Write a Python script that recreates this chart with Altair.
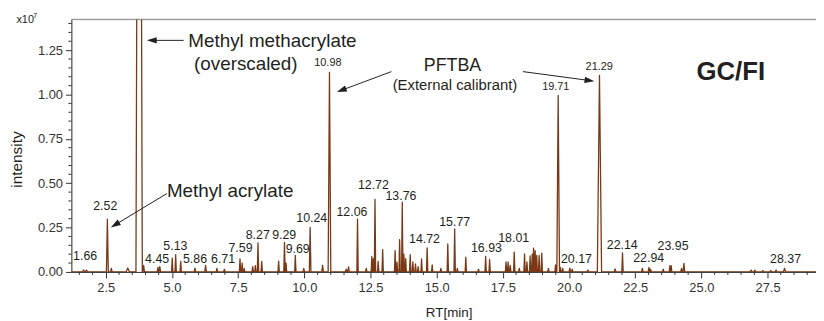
import math
import altair as alt
import pandas as pd

# ---------------- data ----------------
# retention time [min], intensity [x1e7], half width of peak [min]
peak_rt = [1.66, 1.77, 2.56, 2.71, 3.33, 3.76, 3.93, 4.47, 4.54, 5.01, 5.14, 5.33,
           5.87, 6.27, 6.70, 6.98, 7.57, 7.65, 7.73, 8.05, 8.15, 8.25, 8.39, 9.03,
           9.25, 9.31, 9.66, 9.98, 10.22, 10.69, 10.95, 11.58, 11.67, 12.01, 12.34,
           12.55, 12.61, 12.67, 12.79, 12.96, 13.43, 13.50, 13.60, 13.70, 13.76,
           13.83, 14.00, 14.10, 14.20, 14.30, 14.43, 14.64, 14.83, 15.16, 15.42,
           15.68, 15.78, 16.10, 16.58, 16.85, 17.00, 17.62, 17.70, 17.78, 17.93,
           18.12, 18.32, 18.41, 18.53, 18.61, 18.66, 18.72, 18.78, 18.87, 18.97,
           19.22, 19.49, 19.59, 19.67, 19.76, 20.03, 20.12, 20.71, 21.15, 21.74,
           22.02, 22.77, 23.02, 23.08, 23.56, 23.81, 23.86, 24.25, 24.34, 26.88,
           27.02, 27.32, 27.62, 27.82, 28.14]
peak_int = [0.012, 0.010, 0.297, 0.020, 0.022, 6.000, 0.037, 0.025, 0.030, 0.078, 0.097, 0.060,
            0.022, 0.037, 0.020, 0.015, 0.073, 0.050, 0.020, 0.030, 0.035, 0.163, 0.060, 0.061,
            0.167, 0.050, 0.093, 0.020, 0.251, 0.037, 1.125, 0.015, 0.028, 0.297, 0.020,
            0.087, 0.075, 0.409, 0.060, 0.126, 0.120, 0.055, 0.182, 0.394, 0.100,
            0.075, 0.097, 0.056, 0.046, 0.030, 0.074, 0.136, 0.040, 0.020, 0.158,
            0.242, 0.020, 0.083, 0.015, 0.087, 0.070, 0.056, 0.056, 0.037, 0.112,
            0.020, 0.102, 0.056, 0.090, 0.100, 0.134, 0.120, 0.093, 0.093, 0.106,
            0.020, 0.040, 0.995, 0.026, 0.020, 0.022, 0.015, 0.010, 1.107, 0.017,
            0.108, 0.020, 0.026, 0.015, 0.015, 0.035, 0.035, 0.020, 0.048, 0.010,
            0.010, 0.008, 0.008, 0.010, 0.020]
peak_hw = [0.04, 0.04, 0.035, 0.03, 0.06, 0.12, 0.03, 0.03, 0.03, 0.025, 0.025, 0.025,
           0.03, 0.03, 0.03, 0.03, 0.025, 0.025, 0.025, 0.025, 0.025, 0.025, 0.025, 0.025,
           0.025, 0.025, 0.025, 0.03, 0.03, 0.03, 0.05, 0.03, 0.03, 0.025, 0.03,
           0.025, 0.025, 0.025, 0.025, 0.025, 0.025, 0.025, 0.025, 0.025, 0.025,
           0.025, 0.025, 0.025, 0.025, 0.025, 0.025, 0.025, 0.025, 0.03, 0.025,
           0.025, 0.025, 0.025, 0.03, 0.025, 0.025, 0.025, 0.025, 0.025, 0.025,
           0.03, 0.025, 0.025, 0.025, 0.025, 0.025, 0.025, 0.025, 0.025, 0.025,
           0.03, 0.025, 0.05, 0.025, 0.025, 0.03, 0.03, 0.04, 0.08, 0.03,
           0.025, 0.03, 0.03, 0.03, 0.03, 0.025, 0.025, 0.03, 0.03, 0.04,
           0.04, 0.04, 0.04, 0.04, 0.04]

label_text = ["1.66", "2.52", "4.45", "5.13", "5.86", "6.71", "7.59", "8.27", "9.29",
              "9.69", "10.24", "12.06", "12.72", "13.76", "14.72", "15.77", "16.93",
              "18.01", "20.17", "22.14", "22.94", "23.95", "28.37"]
label_rt = [1.72, 2.48, 4.44, 5.13, 5.87, 6.93, 7.59, 8.24, 9.24,
            9.75, 10.28, 11.80, 12.61, 13.65, 14.54, 15.68, 16.88,
            17.91, 20.28, 22.01, 23.01, 23.93, 28.18]
label_int = [0.089, 0.372, 0.074, 0.145, 0.074, 0.074, 0.136, 0.208, 0.208,
             0.130, 0.303, 0.340, 0.489, 0.427, 0.186, 0.282, 0.134,
             0.191, 0.074, 0.154, 0.080, 0.145, 0.074]

big_label_text = ["10.98", "19.71", "21.29"]
big_label_rt = [10.89, 19.50, 21.14]
big_label_int = [1.177, 1.041, 1.153]

note_text = ["Methyl methacrylate", "(overscaled)", "Methyl  acrylate", "PFTBA",
             "(External calibrant)"]
note_rt = [5.62, 7.79, 4.81, 15.60, 15.69]
note_int = [1.302, 1.172, 0.455, 1.162, 1.055]
note_size = [19, 19, 19, 18, 15]
note_align = ["left", "center", "left", "center", "center"]

arrow_from_rt = [5.44, 4.81, 13.29, 18.26]
arrow_from_int = [1.305, 0.442, 1.129, 1.129]
arrow_to_rt = [4.05, 2.69, 11.23, 20.96]
arrow_to_int = [1.305, 0.251, 1.014, 1.075]

x_ticks = [2.5, 5.0, 7.5, 10.0, 12.5, 15.0, 17.5, 20.0, 22.5, 25.0, 27.5]
y_ticks = [0.0, 0.25, 0.5, 0.75, 1.0, 1.25]
x_minor = [v / 2 for v in range(3, 59) if (v / 2) % 2.5 != 0]
y_minor = [v / 20 for v in range(1, 29) if v % 5 != 0]

X_DOMAIN = [1.2, 29.33]
Y_DOMAIN = [0.0, 1.423]
W, H = 752, 255
BROWN = "#7a3814"
INK = "#231f20"
FONT = "Liberation Sans"

# ---------------- build tables ----------------
pts = [(X_DOMAIN[0] - 0.5, 0.0)]
for rt, h, hw in zip(peak_rt, peak_int, peak_hw):
    pts += [(rt - hw, 0.0), (rt, h), (rt + hw, 0.0)]
pts.append((X_DOMAIN[1] + 0.5, 0.0))
trace = pd.DataFrame({"rt": [p[0] for p in pts], "v": [p[1] for p in pts],
                      "o": list(range(len(pts)))})

labels = pd.DataFrame({"t": label_text, "rt": label_rt, "v": label_int})
big_labels = pd.DataFrame({"t": big_label_text, "rt": big_label_rt, "v": big_label_int})
notes = pd.DataFrame({"t": note_text, "rt": note_rt, "v": note_int, "s": note_size,
                      "a": note_align})

sx = W / (X_DOMAIN[1] - X_DOMAIN[0])
sy = H / (Y_DOMAIN[1] - Y_DOMAIN[0])
HEAD = 10.0
arows = []
for x0, y0, x1, y1 in zip(arrow_from_rt, arrow_from_int, arrow_to_rt, arrow_to_int):
    dx = (x1 - x0) * sx
    dy = -(y1 - y0) * sy
    L = math.hypot(dx, dy)
    ux, uy = dx / L, dy / L
    ang = math.degrees(math.atan2(ux, -uy)) % 360
    end_x = x1 - ux * HEAD * 0.8 / sx
    end_y = y1 + uy * HEAD * 0.8 / sy
    hx = x1 - ux * HEAD * 0.5 / sx
    hy = y1 + uy * HEAD * 0.5 / sy
    arows.append({"rt": x0, "v": y0, "x1": end_x, "y1": end_y, "hx": hx, "hy": hy,
                  "ang": ang})
arrows = pd.DataFrame(arows)

xs = alt.Scale(domain=X_DOMAIN, nice=False, zero=False)
ys = alt.Scale(domain=Y_DOMAIN, nice=False, zero=False)

x_axis = alt.Axis(
    values=x_ticks, format=".1f", title="RT[min]", titleX=381, titleY=41,
    titleBaseline="middle", titleFontSize=13.5, titleFontWeight="normal",
    titleColor=INK, labelFontSize=13, labelColor="#333", labelPadding=4,
    tickSize=6, tickColor="#333", domainColor="#333", grid=False,
    labelFont=FONT, titleFont=FONT)
y_axis = alt.Axis(
    values=y_ticks, format=".2f", title="intensity", titleX=-55, titleY=141,
    titleAngle=270, titleAlign="center", titleBaseline="middle",
    titleFontSize=15.5, titleFontWeight="normal", titleColor=INK,
    labelFontSize=13, labelColor="#333", labelPadding=3, tickSize=6,
    tickColor="#333", domainColor="#333", grid=False,
    labelFont=FONT, titleFont=FONT)


def X(field):
    return alt.X(field, type="quantitative", scale=xs, axis=x_axis)


def Y(field):
    return alt.Y(field, type="quantitative", scale=ys, axis=y_axis)


# ---------------- layers ----------------
top_rule = alt.Chart(pd.DataFrame({"a": [0]})).mark_rule(
    color="#9a9a9a", strokeWidth=1.2).encode(
    x=alt.value(0), x2=alt.value(W), y=alt.value(0))

line = alt.Chart(trace).mark_line(
    color=BROWN, strokeWidth=1.3, clip=True, strokeJoin="round").encode(
    x=X("rt"), y=Y("v"), order="o:Q")

ymin = alt.Chart(pd.DataFrame({"v": y_minor})).mark_rule(
    color="#333", strokeWidth=1).encode(
    y=Y("v"), x=alt.value(-3), x2=alt.value(0))
xmin = alt.Chart(pd.DataFrame({"rt": x_minor})).mark_rule(
    color="#333", strokeWidth=1).encode(
    x=X("rt"), y=alt.value(H), y2=alt.value(H + 3))

lab = alt.Chart(labels).mark_text(
    font=FONT, fontSize=12.5, color=INK, baseline="middle", align="center").encode(
    x=X("rt"), y=Y("v"), text="t:N")
big_lab = alt.Chart(big_labels).mark_text(
    font=FONT, fontSize=11, color=INK, baseline="middle", align="center").encode(
    x=X("rt"), y=Y("v"), text="t:N")

note_layers = []
for al in ["left", "center"]:
    note_layers.append(alt.Chart(notes[notes["a"] == al]).mark_text(
        font=FONT, color=INK, baseline="middle", align=al).encode(
        x=X("rt"), y=Y("v"),
        text="t:N", size=alt.Size("s:Q", scale=None, legend=None)))

gcfi = alt.Chart(pd.DataFrame({"t": ["GC/FI"], "rt": [26.11], "v": [1.125]})).mark_text(
    font=FONT, fontSize=26, fontWeight="bold", color=INK, baseline="middle",
    align="center").encode(x=X("rt"), y=Y("v"), text="t:N")

arrow_lines = alt.Chart(arrows).mark_rule(color=INK, strokeWidth=1).encode(
    x=X("rt"), y=Y("v"), x2="x1:Q", y2="y1:Q")
arrow_heads = alt.Chart(arrows).mark_point(
    shape="M0,-1L0.65,1L-0.65,1Z", filled=True, color=INK, opacity=1,
    size=HEAD * HEAD, strokeWidth=0).encode(
    x=X("hx"), y=Y("hy"), angle=alt.Angle("ang:Q", scale=None))

unit = pd.DataFrame({"t": ["x10"], "e": ["7"]})
x10 = alt.Chart(unit).mark_text(font=FONT, fontSize=11, color=INK, align="left",
                                baseline="middle").encode(
    text="t:N", x=alt.value(-55.5), y=alt.value(1))
x10e = alt.Chart(unit).mark_text(font=FONT, fontSize=7, color=INK, align="left",
                                 baseline="middle").encode(
    text="e:N", x=alt.value(-38.5), y=alt.value(-3))

chart = alt.layer(
    top_rule, line, ymin, xmin, lab, big_lab, *note_layers, gcfi,
    arrow_lines, arrow_heads, x10, x10e
).properties(
    width=W, height=H,
    autosize=alt.AutoSizeParams(type="none"),
    padding={"left": 64, "top": 10, "right": 0, "bottom": 48},
).configure_view(stroke=None).configure(font=FONT, background="white")

chart.save("out.html", embed_options={"renderer": "svg", "actions": False})
